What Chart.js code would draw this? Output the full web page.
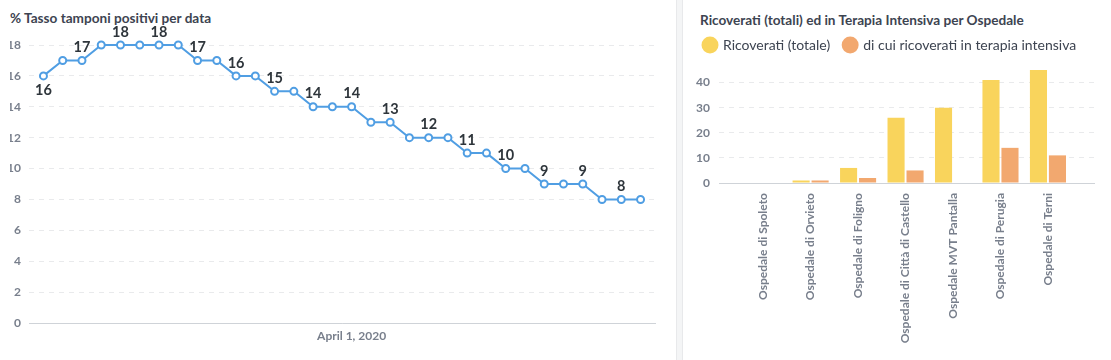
<!DOCTYPE html>
<html>
<head>
<meta charset="utf-8">
<script src="https://cdn.jsdelivr.net/npm/chart.js@4.4.1/dist/chart.umd.min.js"></script>
<style>
  html, body { margin: 0; padding: 0; background: #ffffff; }
  body { width: 1111px; height: 360px; position: relative; overflow: hidden; font-family: Lato, "Noto Sans", sans-serif; }
  #gap { position: absolute; left: 676px; top: 0; width: 5px; height: 360px; background: #f4f5f6; border-left: 1px solid #e8e9eb; border-right: 1px solid #e8e9eb; }
  .title { position: absolute; font-family: Lato, sans-serif; font-weight: 700; font-size: 13.6px; line-height: 18px; color: #3d4451; white-space: nowrap; }
  #t1 { left: 10px; top: 9px; }
  #t2 { left: 700px; top: 11px; }
  #c1wrap { position: absolute; left: 0; top: 0; width: 676px; height: 360px; }
  #c2wrap { position: absolute; left: 683px; top: 0; width: 428px; height: 360px; }
</style>
</head>
<body>
<div id="gap"></div>
<div class="title" id="t1">% Tasso tamponi positivi per data</div>
<div class="title" id="t2">Ricoverati (totali) ed in Terapia Intensiva per Ospedale</div>
<div id="c1wrap"><canvas id="c1" width="676" height="360"></canvas></div>
<div id="c2wrap"><canvas id="c2" width="428" height="360"></canvas></div>
<script>
// ---------- DATA ----------
const dates = [
  '2020-03-16','2020-03-17','2020-03-18','2020-03-19','2020-03-20','2020-03-21','2020-03-22','2020-03-23',
  '2020-03-24','2020-03-25','2020-03-26','2020-03-27','2020-03-28','2020-03-29','2020-03-30','2020-03-31',
  '2020-04-01','2020-04-02','2020-04-03','2020-04-04','2020-04-05','2020-04-06','2020-04-07','2020-04-08',
  '2020-04-09','2020-04-10','2020-04-11','2020-04-12','2020-04-13','2020-04-14','2020-04-15','2020-04-16'
];
const tassoPositivi = [16,17,17,18,18,18,18,18,17,17,16,16,15,15,14,14,14,13,13,12,12,12,11,11,10,10,9,9,9,8,8,8];
const lineYTicks = [0,2,4,6,8,10,12,14,16,18];
const lineXTickDates = ['2020-04-01'];
const lineXTickLabels = ['April 1, 2020'];

const ospedali = ['Ospedale di Spoleto','Ospedale di Orvieto','Ospedale di Foligno','Ospedale di Città di Castello','Ospedale MVT Pantalla','Ospedale di Perugia','Ospedale di Terni'];
const ricoveratiTotale = [0,1,6,26,30,41,45];
const terapiaIntensiva = [0,1,2,5,0,14,11];
const barYTicks = [0,10,20,30,40];

// ---------- COMMON ----------
Chart.defaults.font.family = 'Lato, "Noto Sans", sans-serif';
const axisGray = '#787f8c';
const gridGray = '#e9eaec';
const borderGray = '#cfd3d8';

// ---------- LINE CHART ----------
const pointLabelPlugin = {
  id: 'pointLabels',
  afterDatasetsDraw(chart) {
    const meta = chart.getDatasetMeta(0);
    const ctx = chart.ctx;
    ctx.save();
    ctx.font = 'bold 14.5px Lato, "Noto Sans", sans-serif';
    ctx.fillStyle = '#2e353b';
    ctx.textAlign = 'center';
    ctx.textBaseline = 'middle';
    meta.data.forEach((pt, i) => {
      if (i % 2 !== 0) return;
      const below = i === 0;
      ctx.fillText(String(tassoPositivi[i]), pt.x, below ? pt.y + 14 : pt.y - 13);
    });
    ctx.restore();
  }
};

new Chart(document.getElementById('c1'), {
  type: 'line',
  data: {
    datasets: [{
      data: tassoPositivi.map((v, i) => ({ x: i, y: v })),
      borderColor: '#509ee3',
      borderWidth: 2,
      pointRadius: 3.5,
      pointBorderWidth: 2,
      pointBackgroundColor: '#ffffff',
      pointBorderColor: '#509ee3',
      tension: 0,
      clip: false
    }]
  },
  options: {
    responsive: false,
    animation: false,
    layout: { padding: { left: 10, top: 45, right: 21, bottom: 0 } },
    plugins: { legend: { display: false }, tooltip: { enabled: false } },
    scales: {
      x: {
        type: 'linear',
        offset: false,
        min: -0.75,
        max: dates.length - 0.25,
        afterBuildTicks: (s) => { s.ticks = lineXTickDates.map(d => ({ value: dates.indexOf(d) })); },
        afterFit: (s) => { s.height = 37; },
        grid: { display: false, drawTicks: false },
        border: { display: true, color: borderGray, width: 1 },
        ticks: {
          padding: 6,
          maxRotation: 0,
          color: axisGray,
          font: { size: 12, weight: 'bold' },
          callback: (v) => { const k = lineXTickDates.indexOf(dates[v]); return k >= 0 ? lineXTickLabels[k] : ''; }
        }
      },
      y: {
        min: 0,
        max: 18,
        afterBuildTicks: (s) => { s.ticks = lineYTicks.map(v => ({ value: v })); },
        afterFit: (s) => { s.width = 19; },
        grid: { color: gridGray, drawTicks: false, lineWidth: 1 },
        border: { display: false, dash: [5, 5] },
        ticks: { padding: 8, color: axisGray, font: { size: 12, weight: 'bold' } }
      }
    }
  },
  plugins: [pointLabelPlugin]
});

// ---------- BAR CHART ----------
const legendSpacer = {
  id: 'legendSpacer',
  beforeInit(chart) {
    const origFit = chart.legend.fit;
    chart.legend.fit = function () {
      origFit.bind(chart.legend)();
      this.height += 8;
    };
  }
};

new Chart(document.getElementById('c2'), {
  type: 'bar',
  data: {
    datasets: [
      {
        label: 'Ricoverati (totale)',
        data: ricoveratiTotale.map((v, i) => ({ x: i, y: v })),
        backgroundColor: '#f9d45c',
        categoryPercentage: 0.8,
        barPercentage: 0.9
      },
      {
        label: 'di cui ricoverati in terapia intensiva',
        data: terapiaIntensiva.map((v, i) => ({ x: i, y: v })),
        backgroundColor: '#f2a86f',
        categoryPercentage: 0.8,
        barPercentage: 0.9
      }
    ]
  },
  options: {
    responsive: false,
    animation: false,
    layout: { padding: { left: 7, top: 24, right: 17, bottom: 0 } },
    plugins: {
      tooltip: { enabled: false },
      legend: {
        position: 'top',
        align: 'start',
        labels: {
          usePointStyle: true,
          pointStyle: 'circle',
          boxWidth: 12,
          boxHeight: 12,
          padding: 14,
          color: '#3d4451',
          font: { size: 14 }
        }
      }
    },
    scales: {
      x: {
        type: 'linear',
        offset: false,
        min: -0.93,
        max: ospedali.length - 1 + 0.97,
        afterBuildTicks: (s) => { s.ticks = ospedali.map((_, i) => ({ value: i })); },
        afterFit: (s) => { s.height = 177; s.paddingLeft = 0; s.paddingRight = 0; },
        grid: { display: false, drawTicks: false, offset: false },
        border: { display: true, color: borderGray, width: 1 },
        ticks: {
          autoSkip: false,
          minRotation: 90,
          maxRotation: 90,
          padding: 10,
          color: axisGray,
          font: { size: 12, weight: 'bold' },
          callback: (v) => ospedali[v] || ''
        }
      },
      y: {
        min: 0,
        max: 45,
        afterBuildTicks: (s) => { s.ticks = barYTicks.map(v => ({ value: v })); },
        afterFit: (s) => { s.width = 29; },
        grid: { color: gridGray, drawTicks: false, lineWidth: 1 },
        border: { display: false, dash: [5, 5] },
        ticks: { padding: 9, color: axisGray, font: { size: 12, weight: 'bold' } }
      }
    }
  },
  plugins: [legendSpacer]
});
</script>
</body>
</html>
